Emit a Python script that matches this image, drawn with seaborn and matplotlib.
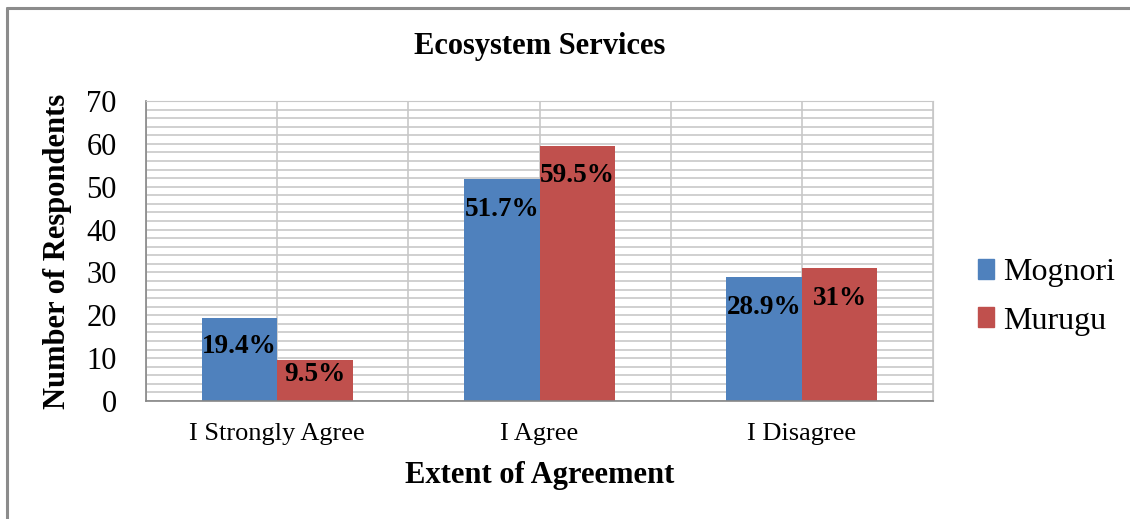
import matplotlib.pyplot as plt
import matplotlib.lines as mlines
import matplotlib.patches as mpatches
import pandas as pd
import seaborn as sns
from matplotlib.ticker import MultipleLocator, FixedLocator

categories = ["I Strongly Agree", "I Agree", "I Disagree"]
series = ["Mognori", "Murugu"]
mognori = [19.4, 51.7, 28.9]
murugu = [9.5, 59.5, 31.0]
mognori_labels = ["19.4%", "51.7%", "28.9%"]
murugu_labels = ["9.5%", "59.5%", "31%"]
colors = ["#4F81BD", "#C0504D"]

sns.set_style("white")
plt.rcParams["font.family"] = ["Liberation Serif", "DejaVu Serif"]
plt.rcParams["text.color"] = "black"
plt.rcParams["axes.labelcolor"] = "black"

df = pd.DataFrame({
    "Extent": categories * 2,
    "Site": [series[0]] * 3 + [series[1]] * 3,
    "Count": mognori + murugu,
})

fig = plt.figure(figsize=(11.3, 5.19), dpi=100)
ax = fig.add_axes([146 / 1130, 1 - 401 / 519, 787 / 1130, 300 / 519])

sns.barplot(data=df, x="Extent", y="Count", hue="Site", hue_order=series,
            order=categories, palette=colors, width=0.576, saturation=1,
            linewidth=0, legend=False, ax=ax)

grid_col = "#C8C8C8"
ax.set_xlim(-0.5, 2.5)
ax.set_ylim(0, 70)
ax.yaxis.set_major_locator(MultipleLocator(10))
ax.yaxis.set_minor_locator(MultipleLocator(2))
ax.xaxis.set_minor_locator(FixedLocator([-0.5, 0.5, 1.5, 2.5]))
ax.set_axisbelow(True)
ax.grid(which="both", axis="both", color=grid_col, linewidth=1.2)

for s in ["top", "right"]:
    ax.spines[s].set_color(grid_col)
for s in ["left", "bottom"]:
    ax.spines[s].set_color("#868686")
    ax.spines[s].set_linewidth(1.2)

ax.tick_params(axis="x", which="major", length=0, pad=16, labelsize=19, labelcolor="black")
ax.tick_params(axis="x", which="minor", length=5, width=1.2, color="#868686", direction="out")
ax.tick_params(axis="y", which="major", length=7, width=1.2, color="#868686",
               direction="out", pad=14, labelsize=22, labelcolor="black")
ax.tick_params(axis="y", which="minor", length=0)

ax.set_xlabel("Extent of Agreement", fontsize=22, fontweight="bold")
ax.set_ylabel("Number of Respondents", fontsize=22, fontweight="bold")
ax.xaxis.label.set_va("center")
ax.yaxis.label.set_va("center")
ax.xaxis.set_label_coords(0.5, (401 - 476) / 300)
ax.yaxis.set_label_coords((58 - 146) / 787, 0.5)

ax.set_title("Ecosystem Services", fontsize=22, fontweight="bold", pad=34, color="black")

for cont, labels in zip(ax.containers, [mognori_labels, murugu_labels]):
    for bar, lab in zip(cont, labels):
        h = bar.get_height()
        off = min(21.6, h * 1.08)
        ax.annotate(lab, (bar.get_x() + bar.get_width() / 2, h),
                    xytext=(0, -off), textcoords="offset points",
                    ha="center", va="center", fontsize=19.5, fontweight="bold",
                    color="black")

handles = [mpatches.Patch(color=c, label=s) for c, s in zip(colors, series)]
fig.legend(handles=handles, loc="center left", bbox_to_anchor=(978 / 1130, 1 - 297 / 519),
           frameon=False, fontsize=23, handlelength=0.5, handleheight=0.6,
           handletextpad=0.3, labelspacing=0.6, borderpad=0, borderaxespad=0)

# frame of the original picture (left and top edges only)
fig.add_artist(mlines.Line2D([7 / 1130, 7 / 1130], [0, 1 - 8 / 519],
                             color="#8C8C8C", linewidth=2.2, transform=fig.transFigure))
fig.add_artist(mlines.Line2D([7 / 1130, 1], [1 - 8 / 519, 1 - 8 / 519],
                             color="#8C8C8C", linewidth=2.2, transform=fig.transFigure))

plt.savefig("out.png", dpi=100)
plt.close("all")
